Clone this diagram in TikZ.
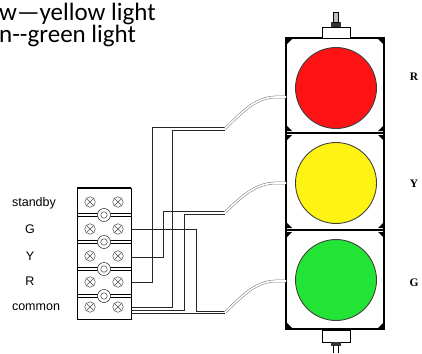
\documentclass[tikz,border=0pt]{standalone}
\usepackage{fontspec}
\setmainfont{Carlito}
\newfontfamily\rowfont{Liberation Sans}
\newfontfamily\lampfont{Liberation Serif}
\usepackage{xcolor}
\usepackage{tikz}
\usetikzlibrary{positioning}
\definecolor{lampred}{RGB}{255,18,18}
\definecolor{lampyellow}{RGB}{255,243,20}
\definecolor{lampgreen}{RGB}{34,228,52}
\tikzstyle{lamp} = [circle, draw=black!75, line width=0.9pt,
    minimum size=81pt, inner sep=0pt]
\tikzstyle{wire} = [draw=black!85, line width=0.7pt]
\tikzstyle{cable} = [draw=black!55, line width=0.5pt, double=white,
    double distance=1.6pt]
\tikzstyle{screw} = [circle, draw=black!70, line width=0.5pt, fill=white,
    minimum size=10.5pt, inner sep=0pt,
    path picture={\draw[black!70, line width=0.5pt]
      (path picture bounding box.north west) -- (path picture bounding box.south east)
      (path picture bounding box.north east) -- (path picture bounding box.south west);}]
\tikzstyle{ring} = [circle, draw=black!75, line width=0.6pt, fill=white,
    minimum size=13pt, inner sep=0pt]
\tikzstyle{caption} = [anchor=base west, inner sep=0pt,
    font=\fontsize{25}{25}\selectfont]
\tikzstyle{rowlabel} = [inner sep=0pt, font=\rowfont\fontsize{12.5}{12.5}\selectfont]
\tikzstyle{lamplabel} = [inner sep=0pt, font=\lampfont\bfseries\fontsize{11.5}{11.5}\selectfont]

\begin{document}
\begin{tikzpicture}[x=1pt, y=-1pt]
  \useasboundingbox (0,0) rectangle (422,353);
  % Captions
  \node [caption] (yellowtext) at (-1,21) {w—yellow light};
  \node [caption] (greentext) at (-1,42) {n{-}{-}green light};
  % Housing
  \draw [line width=1.6pt] (286,38) rectangle (384,329);
  \draw [line width=2.6pt] (286,133) -- (384,133) (286,230) -- (384,230);
  \foreach \y in {39,135,232} {
    \fill (287,\y) -- (292,\y) -- (287,\y+5) -- cycle;
    \fill (383,\y) -- (378,\y) -- (383,\y+5) -- cycle;
  }
  \foreach \y in {131,228,328} {
    \fill (287,\y) -- (292,\y) -- (287,\y-5) -- cycle;
    \fill (383,\y) -- (378,\y) -- (383,\y-5) -- cycle;
  }
  % Caps
  \draw [line width=0.8pt, fill=white] (322,27) rectangle (350,38);
  \fill [black!80] (331,22) rectangle (341,27);
  \draw [line width=0.6pt, fill=black!25] (333.5,12) rectangle (338.5,22);
  \draw [line width=0.8pt, fill=white] (322,330) rectangle (350,342);
  \fill [black!80] (331,342) rectangle (341,346);
  \draw [line width=0.7pt] (333.5,346) -- (333.5,353) (338.5,346) -- (338.5,353);
  % Lamps
  \node [lamp, fill=lampred] (red) at (336,88) {};
  \node [lamp, fill=lampyellow] (yellow) at (336,183) {};
  \node [lamp, fill=lampgreen] (green) at (336,280) {};
  \node [lamplabel] (redlabel) at (414,77) {R};
  \node [lamplabel] (yellowlabel) at (414,184) {Y};
  \node [lamplabel] (greenlabel) at (414,283) {G};
  % Terminal block
  \draw [line width=0.8pt] (77,188) rectangle (131,319);
  \draw [line width=1.4pt] (77,188) -- (131,188);
  \foreach \y in {215,242,269,296} {
    \draw [line width=1.1pt] (77,\y-1.5) -- (131,\y-1.5);
    \draw [line width=0.5pt] (77,\y+1.5) -- (131,\y+1.5);
    \node [ring] at (104,\y) {};
    \node [circle, draw=black!75, line width=0.5pt, minimum size=6.5pt,
      inner sep=0pt] at (104,\y) {};
  }
  \foreach \y in {202,229,256,282,307} {
    \node [screw] at (90,\y) {};
    \node [screw] at (118,\y) {};
  }
  \node [rowlabel] (standby) at (34,203) {standby};
  \node [rowlabel] (glabel) at (30,229) {G};
  \node [rowlabel] (ylabel) at (30,256) {Y};
  \node [rowlabel] (rlabel) at (30,281) {R};
  \node [rowlabel] (common) at (36,307) {common};
  % Terminals and cable taps
  \coordinate (tG) at (131,229);
  \coordinate (tY) at (131,257);
  \coordinate (tR) at (131,282);
  \coordinate (tC1) at (131,307);
  \coordinate (tC2) at (131,310);
  \coordinate (tC3) at (131,313.5);
  \coordinate (redtap) at (225,128.8);
  \coordinate (yellowtap) at (225,212.5);
  \coordinate (greentap) at (225,312.5);
  \coordinate (redin) at (286,97);
  \coordinate (yellowin) at (286,183);
  \coordinate (greenin) at (286,281);
  % Draw wires
  \draw [wire] (tR) -| (152,127.5) -- (225,127.5);
  \draw [wire] (tC1) -| (172,130) -- (225,130);
  \draw [wire] (tY) -| (163,211) -- (225,211);
  \draw [wire] (tC2) -| (184,214) -- (225,214);
  \draw [wire] (tG) -| (196,311) -- (225,311);
  \draw [wire] (tC3) -- (225,313.5);
  % Draw cables
  \draw [cable] (redtap) .. controls (242,112) and (256,97) .. (276,97) -- (redin);
  \draw [cable] (yellowtap) .. controls (242,196) and (256,183) .. (276,183) -- (yellowin);
  \draw [cable] (greentap) .. controls (242,296) and (256,281) .. (276,281) -- (greenin);
\end{tikzpicture}
\end{document}
